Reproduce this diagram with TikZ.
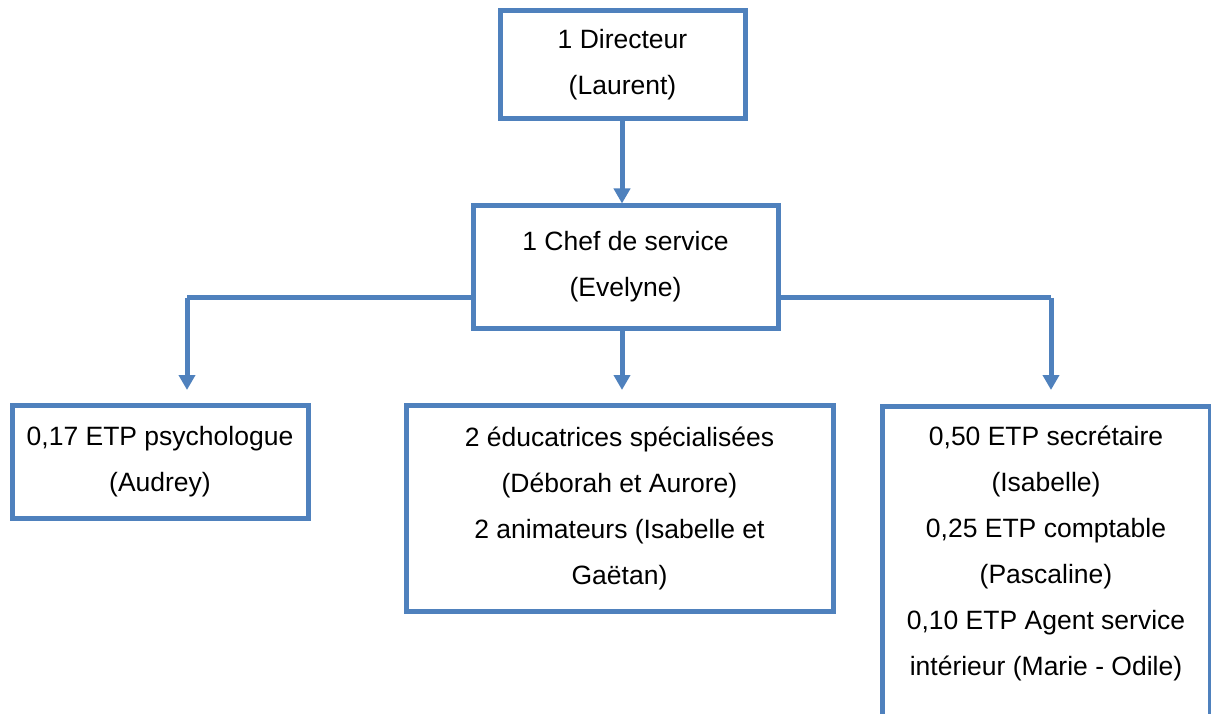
\documentclass[tikz,border=0pt]{standalone}
\usepackage{fontspec}
\setmainfont{Liberation Sans}
\usetikzlibrary{arrows.meta}
\definecolor{orgblue}{HTML}{4F81BD}
\tikzset{
  orgbox/.style={draw=orgblue, line width=5pt, fill=white, align=center,
    font=\fontsize{26.5}{46}\selectfont, inner xsep=4pt, inner ysep=19pt},
  orgline/.style={draw=orgblue, line width=5pt},
  orgarrow/.style={orgline, -{Triangle[width=16pt,length=15pt]}}
}
\begin{document}
\begin{tikzpicture}[x=1pt,y=-1pt]
\clip (0,0) rectangle (1211,714);
\fill[white] (0,0) rectangle (1211,714);
\node[orgbox, minimum width=245pt, minimum height=105pt] (dir) at (622.5,64.5) {1 Directeur\\(Laurent)};
\node[orgbox, minimum width=305pt, minimum height=122pt] (chef) at (625.5,267) {1 Chef de service\\(Evelyne)};
\node[orgbox, minimum width=296pt, minimum height=113pt] (psy) at (160,461.5) {0,17 ETP psychologue\\(Audrey)};
\node[orgbox, minimum width=427pt, minimum height=206pt] (edu) at (619.5,508) {2 éducatrices spécialisées\\(Déborah et Aurore)\\2 animateurs (Isabelle et\\Gaëtan)};
\node[orgbox, minimum width=328pt, anchor=north] (sec) at (1046,404) {0,50 ETP secrétaire\\(Isabelle)\\0,25 ETP comptable\\(Pascaline)\\0,10 ETP Agent service\\intérieur (Marie - Odile)\\\strut};
\coordinate (jl) at (187,298);
\coordinate (jr) at (1051,298);
\coordinate (pl) at (187,390);
\coordinate (pm) at (622,390);
\coordinate (pr) at (1051,390);
\draw[orgarrow] (dir.south -| 622,0) -- (chef.north -| 622,0);
\draw[orgline] (chef.west |- jl) -- (jl);
\draw[orgarrow] (jl) -- (pl);
\draw[orgline] (chef.east |- jr) -- (jr);
\draw[orgarrow] (jr) -- (pr);
\draw[orgarrow] (chef.south -| pm) -- (pm);
\end{tikzpicture}
\end{document}
